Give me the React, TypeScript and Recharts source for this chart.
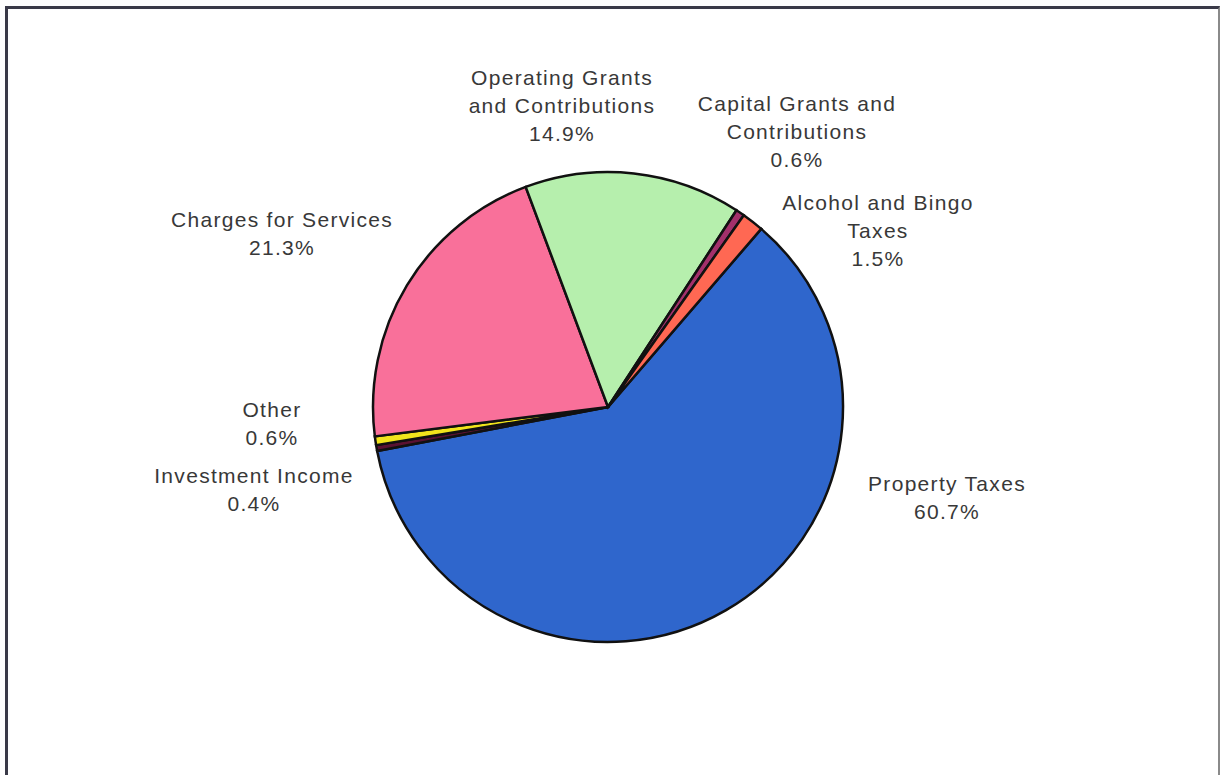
import { PieChart, Pie, Cell } from 'recharts';

// slices, clockwise from the right-hand edge of Property Taxes
const categories = [
  'Property Taxes',
  'Investment Income',
  'Other',
  'Charges for Services',
  'Operating Grants and Contributions',
  'Capital Grants and Contributions',
  'Alcohol and Bingo Taxes',
];
const shares = [60.7, 0.4, 0.6, 21.3, 14.9, 0.6, 1.5];
const labelLines = [
  ['Property Taxes'],
  ['Investment Income'],
  ['Other'],
  ['Charges for Services'],
  ['Operating Grants', 'and Contributions'],
  ['Capital Grants and', 'Contributions'],
  ['Alcohol and Bingo', 'Taxes'],
];
const colors = ['#2f66cc', '#5a1232', '#f2e41c', '#f9709a', '#b6efad', '#a3306b', '#ff6853'];

const data = categories.map((name, i) => ({ name, value: shares[i] }));

// where each label sits, relative to the pie centre (Excel placed them by hand)
const labelOffsets = [
  { dx: 339, dy: 77 },
  { dx: -354, dy: 69 },
  { dx: -336, dy: 3 },
  { dx: -326, dy: -187 },
  { dx: -46, dy: -329 },
  { dx: 189, dy: -303 },
  { dx: 270, dy: -204 },
];

const renderLabel = (props: any) => {
  const { cx, cy, index, value } = props;
  const off = labelOffsets[index];
  const lines = [...labelLines[index], `${Number(value).toFixed(1)}%`];
  return (
    <text
      x={cx + off.dx}
      y={cy + off.dy}
      textAnchor="middle"
      fill="#383838"
      fontSize={21}
      letterSpacing={1.3}
      fontFamily="'Liberation Sans', Arial, sans-serif"
    >
      {lines.map((l, i) => (
        <tspan key={i} x={cx + off.dx} dy={i === 0 ? 7 : 28}>
          {l}
        </tspan>
      ))}
    </text>
  );
};

export default function App() {
  return (
    <div style={{ position: 'absolute', left: 0, top: 0, width: 1223, height: 775, background: '#fff' }}>
      {/* frame */}
      <div
        style={{
          position: 'absolute',
          left: 5,
          top: 6,
          width: 1210,
          height: 775,
          borderTop: '3px solid #3a3a48',
          borderLeft: '3px solid #3a3a48',
          borderRight: '2px solid #8a8a8a',
        }}
      />
      <div style={{ position: 'absolute', left: 0, top: 0 }}>
        <PieChart width={1223} height={775} margin={{ top: 0, right: 0, bottom: 0, left: 0 }}>
          <Pie
            data={data}
            dataKey="value"
            nameKey="name"
            cx={608}
            cy={407}
            outerRadius={235}
            startAngle={49.3}
            endAngle={49.3 - 360}
            stroke="#111"
            strokeWidth={2.5}
            label={renderLabel}
            labelLine={false}
            isAnimationActive={false}
          >
            {data.map((d, i) => (
              <Cell key={d.name} fill={colors[i]} />
            ))}
          </Pie>
        </PieChart>
      </div>
    </div>
  );
}
